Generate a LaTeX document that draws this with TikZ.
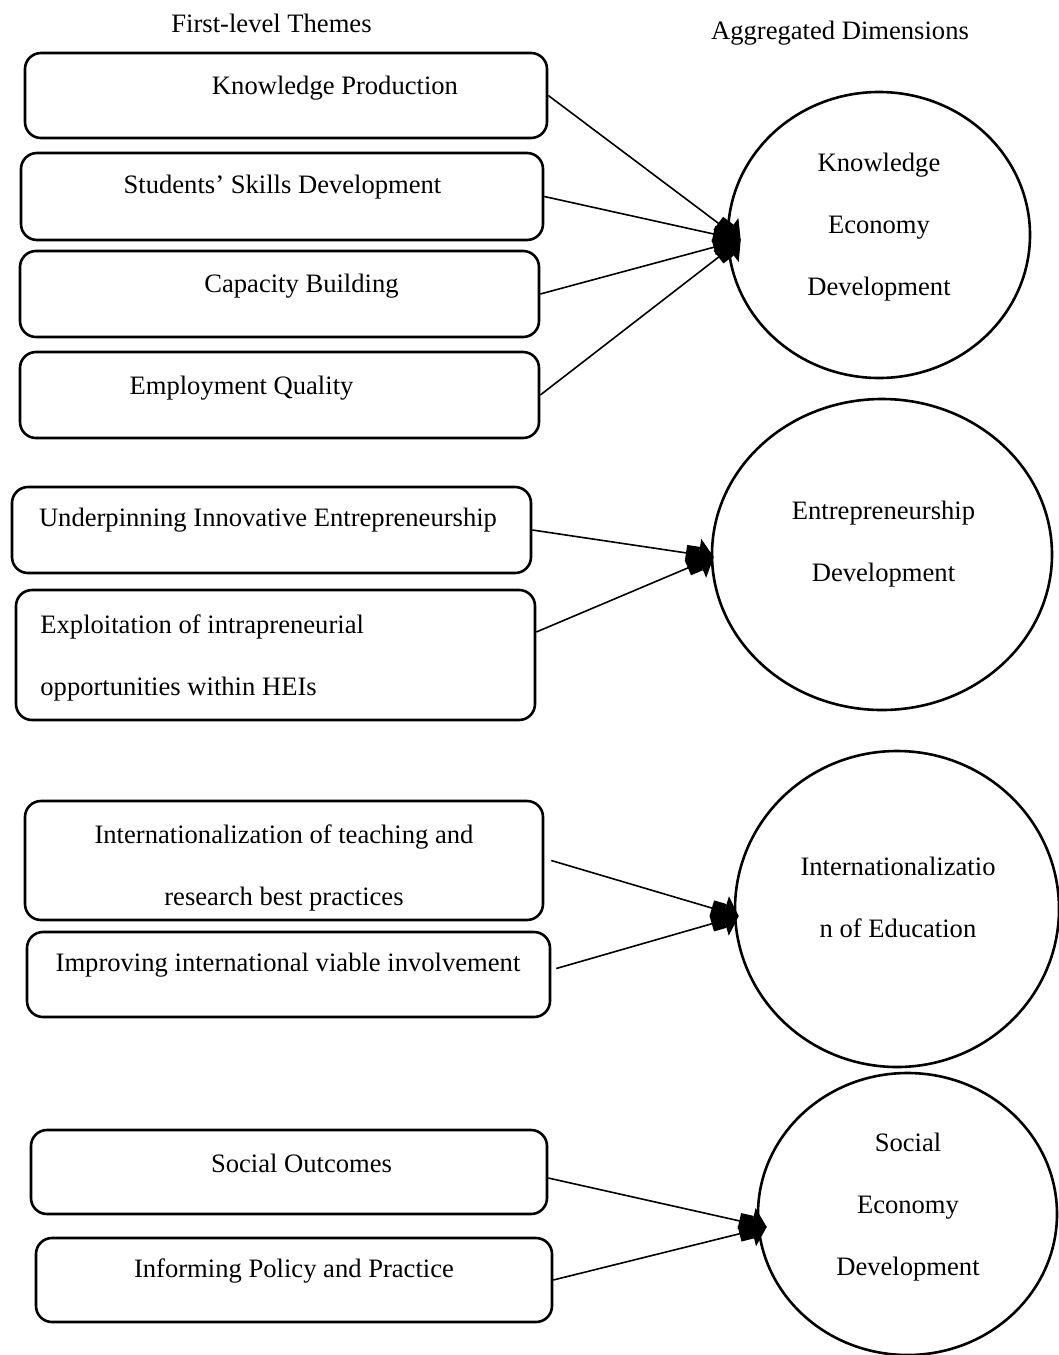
\documentclass[tikz,border=0pt]{standalone}
\usepackage{fontspec}
\setmainfont{Liberation Serif}
\usetikzlibrary{arrows.meta, shapes.geometric}

\begin{document}
\begin{tikzpicture}[
    x=0.5pt, y=-0.5pt,
    every node/.style={font=\fontsize{13.3}{31}\selectfont},
    box/.style={rectangle, draw, rounded corners=8pt, line width=1.3pt, minimum width=260pt, minimum height=43pt},
    dim/.style={ellipse, draw, line width=1.3pt},
    txt/.style={align=center, inner sep=0pt},
    link/.style={line width=0.8pt, -{Square[length=6.5pt,width=8pt]Triangle[length=7.5pt,width=16pt]}}
  ]
\useasboundingbox (0,0) rectangle (1059,1355);

% Headings
\node[txt] (themes) at (271.5,23) {First-level Themes};
\node[txt] (dims) at (840,33) {Aggregated Dimensions};

% Theme boxes
\node[box, minimum width=261pt, minimum height=42.5pt] (kp) at (286,95.5) {};
\node[box, minimum width=261pt, minimum height=43.5pt] (ssd) at (282,196.5) {};
\node[box, minimum width=259.5pt] (cb) at (279.5,294) {};
\node[box, minimum width=259.5pt] (eq) at (279.5,395) {};
\node[box, minimum width=259.5pt] (uie) at (271.5,530) {};
\node[box, minimum width=259.5pt, minimum height=65pt] (eio) at (275.5,655) {};
\node[box, minimum width=259pt, minimum height=59.5pt] (itr) at (284,860.5) {};
\node[box, minimum width=261.5pt, minimum height=42.5pt] (iivi) at (288.5,974.5) {};
\node[box, minimum width=258pt, minimum height=42pt] (so) at (289,1172) {};
\node[box, minimum width=258pt, minimum height=42pt] (ipp) at (294,1280) {};

% Theme texts
\node[txt] (kpt) at (335,88) {Knowledge Production};
\node[txt] (ssdt) at (282.5,187) {Students' Skills Development};
\node[txt] (cbt) at (301.5,286) {Capacity Building};
\node[txt] (eqt) at (241.5,388) {Employment Quality};
\node[txt] (uiet) at (268,520) {Underpinning Innovative Entrepreneurship};
\node[txt, align=left, anchor=west] (eiot) at (40,658) {Exploitation of intrapreneurial\\opportunities within HEIs};
\node[txt] (itrt) at (284,867.5) {Internationalization of teaching and\\research best practices};
\node[txt] (iivit) at (288,965) {Improving international viable involvement};
\node[txt] (sot) at (301.5,1163) {Social Outcomes};
\node[txt] (ippt) at (294,1271) {Informing Policy and Practice};

% Dimensions
\node[dim, minimum width=151pt, minimum height=143pt] (ked) at (879,235) {};
\node[dim, minimum width=170pt, minimum height=155.5pt] (ed) at (882,554.5) {};
\node[dim, minimum width=162pt, minimum height=158pt] (ie) at (897,909) {};
\node[dim, minimum width=149.5pt, minimum height=141pt] (sed) at (907.5,1214) {};

\node[txt] (kedt) at (879,227) {Knowledge\\Economy\\Development};
\node[txt] (edt) at (883.5,544) {Entrepreneurship\\Development};
\node[txt] (iet) at (898,897.5) {Internationalizatio\\n of Education};
\node[txt] (sedt) at (908,1207) {Social\\Economy\\Development};

% Arrow ends
\coordinate (kedin) at ([xshift=7pt,yshift=-2.5pt]ked.west);
\coordinate (edin) at ([xshift=1.5pt,yshift=-1.25pt]ed.west);
\coordinate (iein) at ([xshift=2.5pt,yshift=-3.5pt]ie.west);
\coordinate (sedin) at ([xshift=5pt,yshift=-6.5pt]sed.west);

% Arrows
\draw[link] (kp.east) -- (kedin);
\draw[link] (ssd.east) -- (kedin);
\draw[link] (cb.east) -- (kedin);
\draw[link] (eq.east) -- (kedin);
\draw[link] (uie.east) -- (edin);
\draw[link] ([yshift=11.5pt]eio.east) -- (edin);
\draw[link] ([xshift=3.5pt]itr.east) -- (iein);
\draw[link] ([xshift=2.5pt,yshift=3pt]iivi.east) -- (iein);
\draw[link] ([yshift=-3pt]so.east) -- (sedin);
\draw[link] (ipp.east) -- (sedin);

\end{tikzpicture}
\end{document}
